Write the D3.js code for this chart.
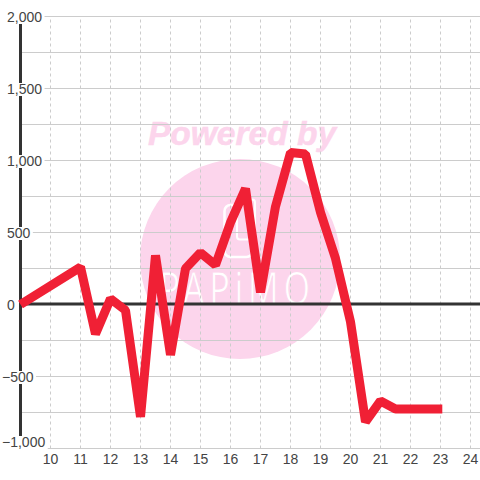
<!DOCTYPE html>
<html><head><meta charset="utf-8">
<script src="https://cdn.jsdelivr.net/npm/d3@7"></script>
<style>html,body{margin:0;padding:0;background:#fff}svg{display:block}</style>
</head><body><svg id="c" width="480" height="480"></svg>
<script>
const xValues = [9,11,11.5,12,12.5,13,13.5,14,14.5,15,15.5,16,16.5,17,17.5,18,18.5,19,19.5,20,20.5,21,21.5,22,23.06];
const yValues = [0,260,-205,40,-40,-780,340,-350,250,360,275,570,805,85,680,1055,1045,640,320,-120,-815,-670,-725,-725,-725];
const xTicks = [10,11,12,13,14,15,16,17,18,19,20,21,22,23,24];
const yLabels = [2000,1500,1000,500,0,-500,-1000];
const yGrid = [2000,1750,1500,1250,1000,750,500,250,-250,-500,-750,-1000];
const watermark = "Powered by";
const logoText = "PAPiMO";

const svg = d3.select("#c");
const x = d3.scaleLinear().domain([10,24]).range([50.5,470.5]);
const y = d3.scaleLinear().domain([-1000,2000]).range([448.5,16.5]);
const fmt = d3.format(",");
const font = "'Liberation Sans',Arial,sans-serif";
const pink = "#fcd5ec";

// watermark
const wm = svg.append("g");
wm.append("circle").attr("cx",240).attr("cy",259).attr("r",100).attr("fill",pink);
wm.append("text").text(watermark).attr("x",242).attr("y",145)
  .attr("text-anchor","middle").attr("font-family",font).attr("font-weight","bold").attr("font-style","italic")
  .attr("font-size",33.5).attr("fill",pink).attr("stroke",pink).attr("stroke-width",0.5);
wm.append("rect").attr("x",224.5).attr("y",205).attr("width",28).attr("height",52).attr("rx",6)
  .attr("fill","none").attr("stroke","#fff").attr("stroke-width",2.5);
wm.append("rect").attr("x",237).attr("y",199.5).attr("width",18).attr("height",40).attr("rx",3)
  .attr("fill",pink).attr("stroke","#fff").attr("stroke-width",2);
wm.append("text").text(logoText)
  .attr("transform","translate(237,305) scale(0.76,1)").attr("text-anchor","middle")
  .attr("font-family","'Noto Sans',sans-serif").attr("font-size",45).attr("letter-spacing",6)
  .attr("fill","#fff").attr("stroke",pink).attr("stroke-width",1);

// grid
svg.append("g").attr("transform","translate(20,0)")
  .call(d3.axisRight(y).tickValues(yGrid).tickSize(460).tickFormat("").offset(0))
  .call(g=>g.select(".domain").remove())
  .call(g=>g.selectAll("line").attr("stroke","#ccc").attr("stroke-width",1));
const xa = svg.append("g").attr("transform","translate(0,448.5)")
  .call(d3.axisBottom(x).tickValues(xTicks).tickSize(-432).tickFormat(d=>d).offset(0));
xa.select(".domain").remove();
xa.selectAll("line").attr("stroke","#ccc").attr("stroke-width",1).attr("stroke-dasharray","3,3");
xa.selectAll("text").attr("font-family",font).attr("font-size",14).attr("fill","#444").attr("y",6);

// axis lines
svg.append("line").attr("x1",20.5).attr("x2",20.5).attr("y1",16).attr("y2",449).attr("stroke","#333").attr("stroke-width",3);
svg.append("line").attr("x1",20).attr("x2",480).attr("y1",y(0)-0.5).attr("y2",y(0)-0.5).attr("stroke","#333").attr("stroke-width",3);

// y labels
const ya = svg.append("g")
  .call(d3.axisLeft(y).tickValues(yLabels).tickSize(0).tickFormat(fmt).offset(0));
ya.select(".domain").remove();
ya.selectAll(".tick").each(function(d){
  const t = d3.select(this).select("text")
    .attr("font-family",font).attr("font-size",14).attr("fill","#444")
    .attr("text-anchor","start").attr("dy",null)
    .attr("x",d<0?2:7).attr("y",d===-1000?-1.5:5.5);
  const w = t.node().getComputedTextLength();
  const top = d===-1000?-12.5:-5.5;
  d3.select(this).insert("rect","text").attr("x",(d<0?2:7)-1).attr("y",top).attr("width",w+3.5).attr("height",13).attr("fill","#fff");
});

// series
svg.append("path").datum(xValues.map((d,i)=>[d,yValues[i]]))
  .attr("d",d3.line().x(d=>x(d[0])).y(d=>y(d[1])))
  .attr("fill","none").attr("stroke","#f02035").attr("stroke-width",9).attr("stroke-linejoin","bevel");
</script></body></html>
